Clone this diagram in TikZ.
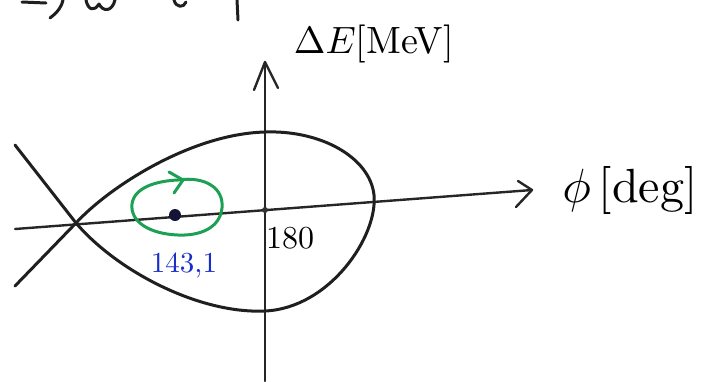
\documentclass[tikz,border=0pt]{standalone}
\usetikzlibrary{calc}
\definecolor{orbitgreen}{RGB}{28,160,84}
\definecolor{labelblue}{RGB}{25,45,200}
\definecolor{dotnavy}{RGB}{20,20,55}
\begin{document}
\begin{tikzpicture}[x=1pt,y=-1pt,
  ink/.style={line width=3pt,line cap=round,line join=round,black!88},
  axisline/.style={line width=2.4pt,line cap=round,line join=round,black!85},
  orbit/.style={line width=3pt,line cap=round,line join=round,orbitgreen},
  hand/.style={inner sep=0pt}]
\useasboundingbox (0,0) rectangle (701,381);
% cut-off handwriting at the top edge
\draw[ink] (22,2) -- (46,3);
\draw[ink] (50,18) .. controls (58,12) and (62,6) .. (63,0);
\draw[ink] (86,0) .. controls (88,10) and (94,12) .. (99,4) .. controls (103,12) and (112,12) .. (115,0);
\draw[ink] (174,0) .. controls (176,8) and (184,8) .. (186,2);
\draw[ink] (237,0) -- (238,20);
% axes
\coordinate (hL) at (15,229);
\coordinate (hR) at (532,190);
\coordinate (vT) at (265,62);
\coordinate (vB) at (265,381);
\coordinate (origin) at (265,210);
\draw[axisline] (hL) -- (hR);
\draw[axisline] (vB) -- (vT);
\draw[axisline] ($(vT)+(-11,28)$) -- (vT) -- ($(vT)+(13,26)$);
\draw[axisline] ($(hR)+(-14,-9)$) -- (hR) -- ($(hR)+(-16,17)$);
% separatrix
\coordinate (xpt) at (76,223);
\coordinate (bl) at (15,286);
\coordinate (tl) at (15,145);
\draw[ink] (bl) -- (xpt) .. controls (108,188) and (190,134) .. (265,132)
  .. controls (322,130) and (370,158) .. (374,195)
  .. controls (378,236) and (330,308) .. (265,311)
  .. controls (200,314) and (118,272) .. (xpt) -- (tl);
% green orbit
\draw[orbit] (178,180) .. controls (205,176) and (224,188) .. (222,208)
  .. controls (220,228) and (200,236) .. (178,235)
  .. controls (150,234) and (130,222) .. (132,204)
  .. controls (134,188) and (155,181) .. (178,180);
\draw[orbit] (169,172) -- (183,180) -- (174,193);
% points
\fill[dotnavy] (175,215) circle (6pt) coordinate (sync);
\fill[black!80] (origin) circle (3pt);
% labels
\node[hand,scale=3.8] (dE) at (374,44) {$\Delta E$[MeV]};
\node[hand,scale=4.8] (phi) at (630,190) {$\phi$\,[deg]};
\node[hand,scale=2.9,text=labelblue] (v143) at (184,265) {143,1};
\node[hand,scale=3.2] (v180) at (290,238) {180};
\end{tikzpicture}
\end{document}
